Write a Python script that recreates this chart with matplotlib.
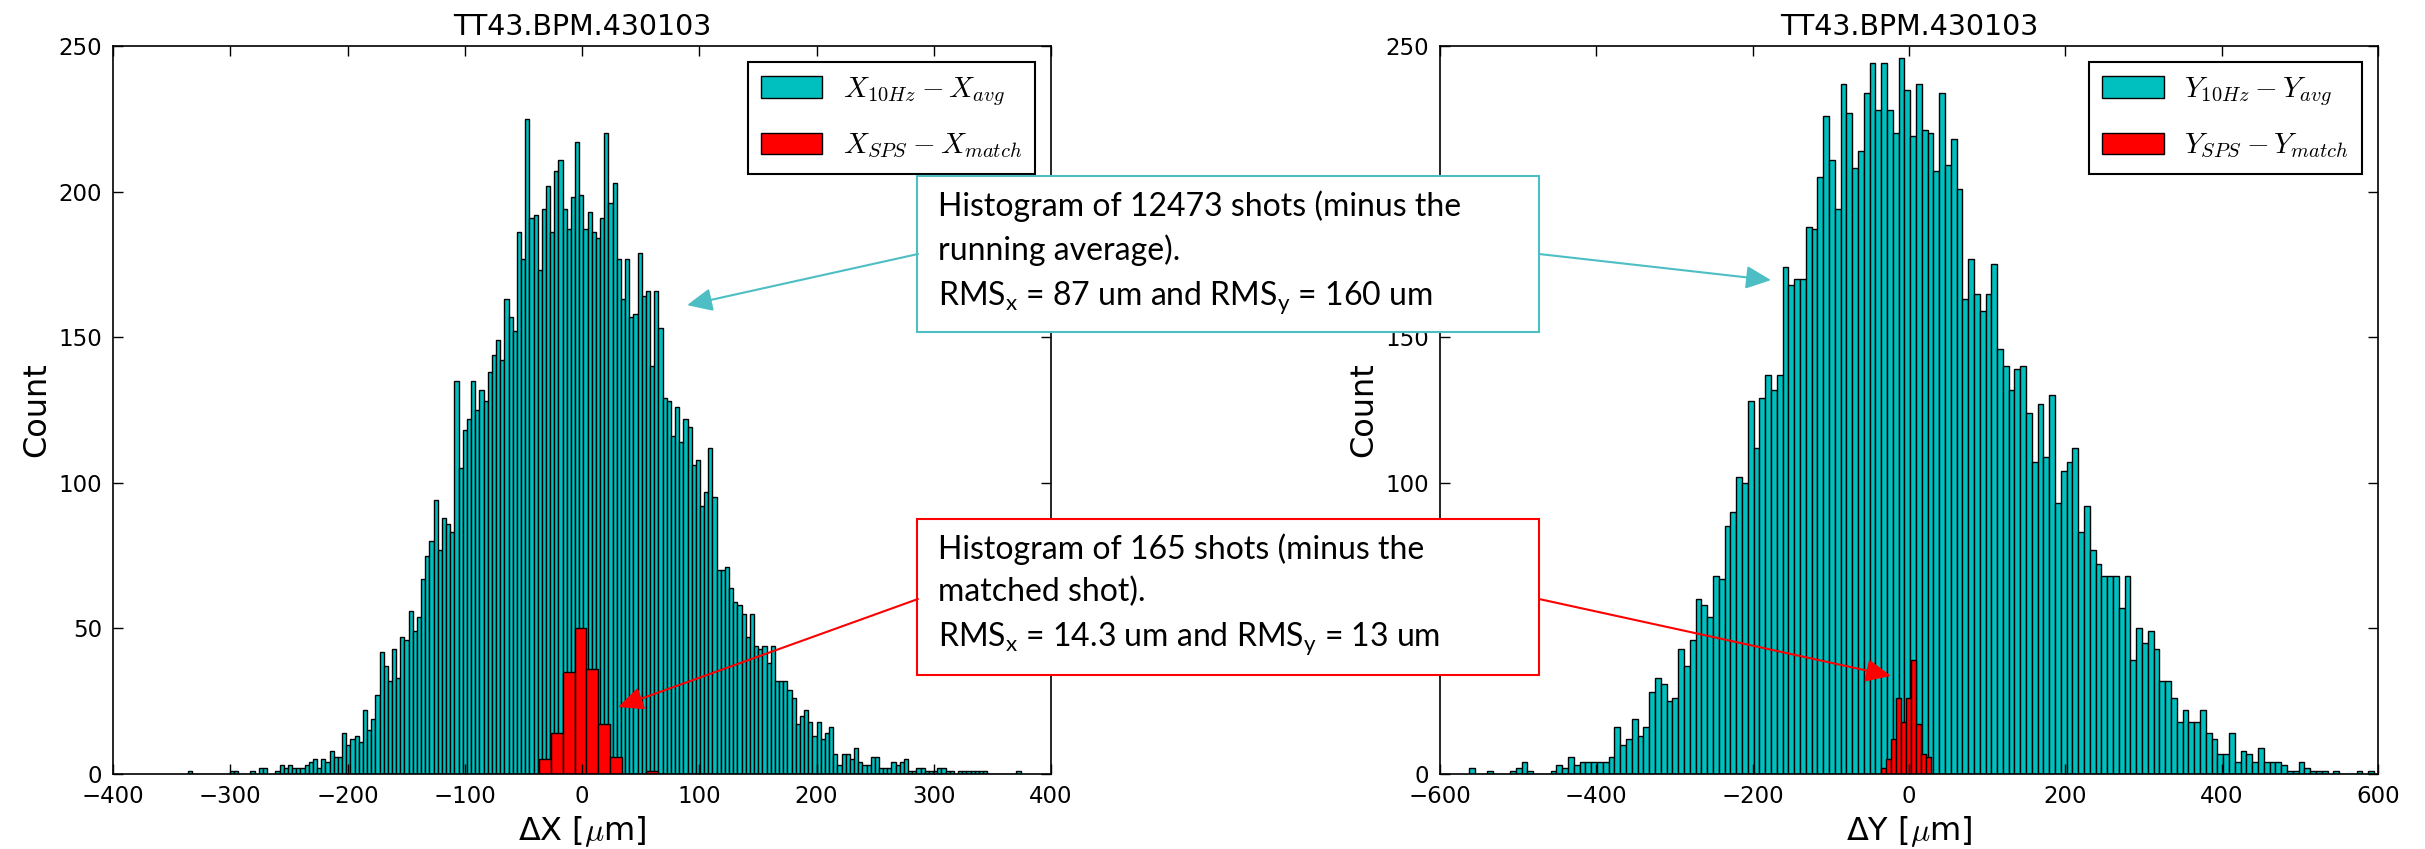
import numpy as np
import matplotlib
matplotlib.use('Agg')
import matplotlib.pyplot as plt
from matplotlib.patches import Rectangle, ConnectionPatch

# 10 Hz BPM readings minus running average (cyan) and SPS shots minus the matched shot (red)
x_counts = [1, 0, 0, 0, 0, 0, 0, 0, 0, 0, 1, 1, 0, 0, 0, 1, 0, 2, 2, 0, 0, 1,
            3, 2, 3, 2, 2, 2, 3, 4, 5, 2, 5, 4, 8, 6, 6, 14, 10, 12, 13, 11, 22, 15, 19, 27,
            42, 37, 32, 43, 33, 47, 46, 56, 49, 54, 67, 75, 80, 94, 77, 88, 86, 83,
            135, 105, 118, 122, 135, 125, 132, 128, 138, 144, 149, 142, 163, 157, 152, 186, 177, 225,
            191, 192, 173, 194, 202, 186, 207, 211, 194, 187, 198, 217, 199, 187, 193, 186, 184, 191,
            220, 196, 203, 177, 163, 177, 157, 158, 179, 164, 166, 140, 166, 153, 129, 128, 116, 126,
            114, 122, 119, 106, 108, 92, 97, 112, 95, 70, 70, 71, 64, 59, 58, 55, 47,
            55, 44, 43, 44, 38, 44, 32, 32, 32, 29, 26, 17, 20, 22, 18, 13, 18, 12, 14, 16,
            7, 3, 7, 7, 5, 9, 4, 3, 3, 6, 6, 2, 2, 2, 4, 3, 4, 5, 1, 1,
            2, 2, 1, 1, 1, 2, 2, 1, 1, 0, 1, 1, 1, 1, 1, 1, 1, 0, 0, 0, 0, 0, 0, 0, 1]
x_range = (-336.0, 374.0)
x_sps_counts = [5, 14, 35, 50, 36, 17, 6, 0, 0, 1]
x_sps_range = (-36.7, 64.5)

y_counts = [2, 0, 0, 1, 0, 0, 0, 1, 2, 4, 1, 0, 0, 0, 1, 3, 2, 6, 3, 4, 4, 4, 4, 4, 6, 16,
            10, 12, 19, 13, 16, 28, 33, 31,
            25, 26, 43, 37, 46, 60, 58, 54, 68, 67, 85, 90, 102, 100, 128, 112, 129, 137, 132, 137,
            174, 168, 170, 170, 188, 187, 205, 226, 211, 194, 237, 227, 208, 214, 234, 244, 228, 244,
            228, 220, 246, 235, 219, 237, 221, 220, 207, 234, 209, 218, 201, 163, 177, 165, 159, 165,
            175, 146,
            140, 132, 139, 140, 124, 107, 127, 109, 130, 93, 104, 107, 112, 83, 92, 77, 72, 68, 68, 68,
            57, 68, 39, 50, 45, 49, 43, 32, 32, 26, 18, 22, 18, 18, 22, 14, 12, 7, 7, 14,
            4, 8, 7, 4, 9, 4, 4, 4, 3, 1, 1, 4, 2, 1, 1, 1, 0, 1,
            0, 0, 0, 1, 0, 1]
y_range = (-562.5, 595.0)
y_sps_counts = [2, 5, 12, 26, 18, 26, 39, 17, 7, 6]
y_sps_range = (-36.3, 27.7)

W, H = 2425, 849
plt.rcParams['font.family'] = 'DejaVu Sans'
plt.rcParams['mathtext.fontset'] = 'cm'
plt.rcParams['mathtext.rm'] = 'Lato'
plt.rcParams['mathtext.it'] = 'Lato:italic'
plt.rcParams['mathtext.bf'] = 'Lato:bold'
plt.rcParams['axes.linewidth'] = 1.2

fig = plt.figure(figsize=(W / 100, H / 100), dpi=100)
ax1 = fig.add_axes([113 / W, 75 / H, 938 / W, 728 / H])
ax2 = fig.add_axes([1440 / W, 75 / H, 938 / W, 728 / H])


def edges_for(counts, rng):
    return np.linspace(rng[0], rng[1], len(counts) + 1)


def draw_panel(ax, counts, rng, sps_counts, sps_rng, labels, xticks, xlabel):
    e = edges_for(counts, rng)
    ax.hist(e[:-1], bins=e, weights=counts, color='c', edgecolor='k', linewidth=1, label=labels[0])
    es = edges_for(sps_counts, sps_rng)
    ax.hist(es[:-1], bins=es, weights=sps_counts, color='r', edgecolor='k', linewidth=1, label=labels[1])
    ax.set_xlim(xticks[0], xticks[-1])
    ax.set_ylim(0, 250)
    ax.set_xticks(xticks)
    ax.set_yticks(range(0, 251, 50))
    ax.tick_params(direction='in', length=7, width=1, top=True, right=True, labelsize=16.5, pad=8)
    ax.set_title('TT43.BPM.430103', fontsize=20.5, pad=8)
    ax.set_xlabel(xlabel, fontsize=23)
    ax.set_ylabel('Count', fontsize=23)
    leg = ax.legend(loc='upper right', fontsize=21, fancybox=False, framealpha=1, edgecolor='k',
                    handlelength=2.1, handleheight=0.75, handletextpad=0.7, labelspacing=0.8,
                    borderpad=0.45, borderaxespad=0.55)
    leg.get_frame().set_linewidth(1.5)


draw_panel(ax1, x_counts, x_range, x_sps_counts, x_sps_range,
           [r'$X_{10Hz}-X_{avg}$', r'$X_{SPS}-X_{match}$'],
           list(range(-400, 401, 100)), r'ΔX [$\mu$m]')
draw_panel(ax2, y_counts, y_range, y_sps_counts, y_sps_range,
           [r'$Y_{10Hz}-Y_{avg}$', r'$Y_{SPS}-Y_{match}$'],
           list(range(-600, 601, 200)), r'ΔY [$\mu$m]')

# callout boxes laid over both panels
teal = '#4DBEC3'
notes = [
    (176, teal, 'Histogram of 12473 shots (minus the\nrunning average).\n'
                r'RMS$_\mathrm{x}$ = 87 um and RMS$_\mathrm{y}$ = 160 um'),
    (519, 'red', 'Histogram of 165 shots (minus the\nmatched shot).\n'
                 r'RMS$_\mathrm{x}$ = 14.3 um and RMS$_\mathrm{y}$ = 13 um'),
]
for top, col, txt in notes:
    fig.add_artist(Rectangle((917 / W, 1 - (top + 156) / H), 622 / W, 156 / H,
                             transform=fig.transFigure, facecolor='white', edgecolor=col,
                             linewidth=1.5, zorder=5))
    fig.text(938 / W, 1 - (top + 14) / H, txt, fontsize=23, family='Lato', va='top', ha='left',
             linespacing=1.5, math_fontfamily='custom', zorder=6)


def pointer(ax, tail, head, col):
    con = ConnectionPatch(xyA=(tail[0] / W, 1 - tail[1] / H), coordsA='figure fraction',
                          xyB=head, coordsB='data', axesB=ax,
                          arrowstyle='-|>,head_length=0.7,head_width=0.32', mutation_scale=22,
                          color=col, linewidth=1.5, shrinkA=0, shrinkB=0, zorder=7)
    fig.add_artist(con)


pointer(ax1, (918, 254), (89.6, 161), teal)
pointer(ax2, (1539, 254), (-176.5, 169.6), teal)
pointer(ax1, (918, 599), (30.7, 23), 'red')
pointer(ax2, (1539, 599), (-23, 33.7), 'red')

fig.savefig('out.png', dpi=100)
